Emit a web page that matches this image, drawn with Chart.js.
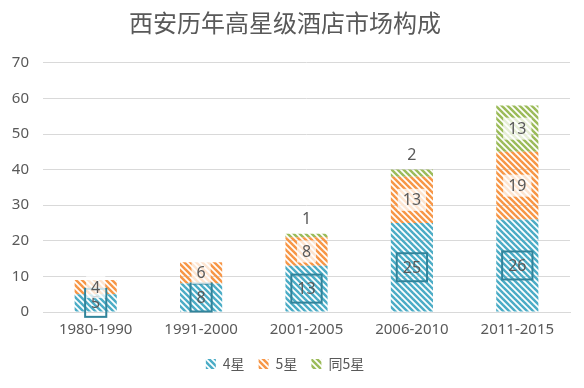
<!DOCTYPE html>
<html>
<head>
<meta charset="utf-8">
<script src="https://cdn.jsdelivr.net/npm/chart.js@4"></script>
<style>
  html, body { margin: 0; padding: 0; background: #fff; }
  #wrap { width: 584px; height: 388px; }
</style>
</head>
<body>
<div id="wrap"><canvas id="myChart" width="584" height="388"></canvas></div>
<script>
// data
var periods = ['1980-1990', '1991-2000', '2001-2005', '2006-2010', '2011-2015'];
var seriesNames = ['4星', '5星', '同5星'];
var fourStar = [5, 8, 13, 25, 26];
var fiveStar = [4, 6, 8, 13, 19];
var sameFive = [0, 0, 1, 2, 13];
var yTicks = [0, 10, 20, 30, 40, 50, 60, 70];

var grey = '#595959';

// diagonal hatch fill like the office pattern
function hatch(color) {
    var s = 6;
    var c = document.createElement('canvas');
    c.width = s; c.height = s;
    var x = c.getContext('2d');
    x.strokeStyle = color;
    x.lineWidth = 2.5;
    for (var k = -1; k <= 1; k++) {
        x.beginPath();
        x.moveTo(k * s - 1, -1);
        x.lineTo(k * s + s + 1, s + 1);
        x.stroke();
    }
    return document.createElement('canvas').getContext('2d').createPattern(c, 'repeat');
}

var labelPlugin = {
    id: 'barLabels',
    afterDatasetsDraw: function (chart) {
        var ctx = chart.ctx;
        ctx.save();
        ctx.font = '16px "Noto Sans", sans-serif';
        ctx.textAlign = 'center';
        ctx.textBaseline = 'middle';
        chart.data.datasets.forEach(function (ds, i) {
            var meta = chart.getDatasetMeta(i);
            meta.data.forEach(function (bar, j) {
                var v = ds.data[j];
                if (!v) return;
                var p = bar.getProps(['x', 'y', 'base'], true);
                var cy = (p.y + p.base) / 2;
                var txt = String(v);
                var w = ctx.measureText(txt).width;
                if (i == 0) {
                    ctx.strokeStyle = '#31849B';
                    ctx.lineWidth = 2;
                    ctx.strokeRect(p.x - w / 2 - 6, cy - 14, w + 12, 28);
                } else if (i == 1 || v >= 5) {
                    ctx.fillStyle = 'rgba(255,255,255,0.75)';
                    ctx.fillRect(p.x - w / 2 - 5, cy - 11, w + 10, 22);
                } else {
                    cy = p.y - 15;
                }
                ctx.fillStyle = grey;
                ctx.fillText(txt, p.x, cy + 1);
            });
        });
        ctx.restore();
    }
};

var ctx1 = document.getElementById('myChart').getContext('2d');
var myChart = new Chart(ctx1, {
    type: 'bar',
    data: {
        labels: periods,
        datasets: [
            { label: seriesNames[0], data: fourStar, backgroundColor: hatch('#4BACC6') },
            { label: seriesNames[1], data: fiveStar, backgroundColor: hatch('#F79646') },
            { label: seriesNames[2], data: sameFive, backgroundColor: hatch('#9BBB59') }
        ]
    },
    options: {
        responsive: false,
        animation: false,
        layout: { padding: { left: 0, right: 14, top: 0, bottom: 7 } },
        datasets: { bar: { barPercentage: 0.8, categoryPercentage: 0.5 } },
        scales: {
            x: {
                stacked: true,
                grid: { display: false },
                border: { color: '#d9d9d9' },
                afterFit: function (ax) { ax.height += 3; },
                ticks: { color: grey, padding: 1, font: { size: 15, family: '"Noto Sans", sans-serif' } }
            },
            y: {
                stacked: true,
                min: 0, max: 70,
                afterBuildTicks: function (ax) { ax.ticks = yTicks.map(function (v) { return { value: v }; }); },
                afterFit: function (ax) { ax.width = 43; },
                grid: { color: '#d9d9d9', drawTicks: false },
                border: { display: false },
                ticks: { color: grey, padding: 14, font: { size: 15, family: '"Noto Sans", sans-serif' } }
            }
        },
        plugins: {
            title: {
                display: true,
                text: '西安历年高星级酒店市场构成',
                color: grey,
                font: { size: 24, weight: 'normal', family: '"Noto Sans CJK SC", sans-serif' },
                padding: { top: 8, bottom: 26 }
            },
            legend: {
                position: 'bottom',
                labels: {
                    color: grey,
                    boxWidth: 10, boxHeight: 10,
                    padding: 14,
                    font: { size: 14, family: '"Noto Sans CJK SC", sans-serif' }
                }
            },
            tooltip: { enabled: false }
        }
    },
    plugins: [labelPlugin]
});
</script>
</body>
</html>
